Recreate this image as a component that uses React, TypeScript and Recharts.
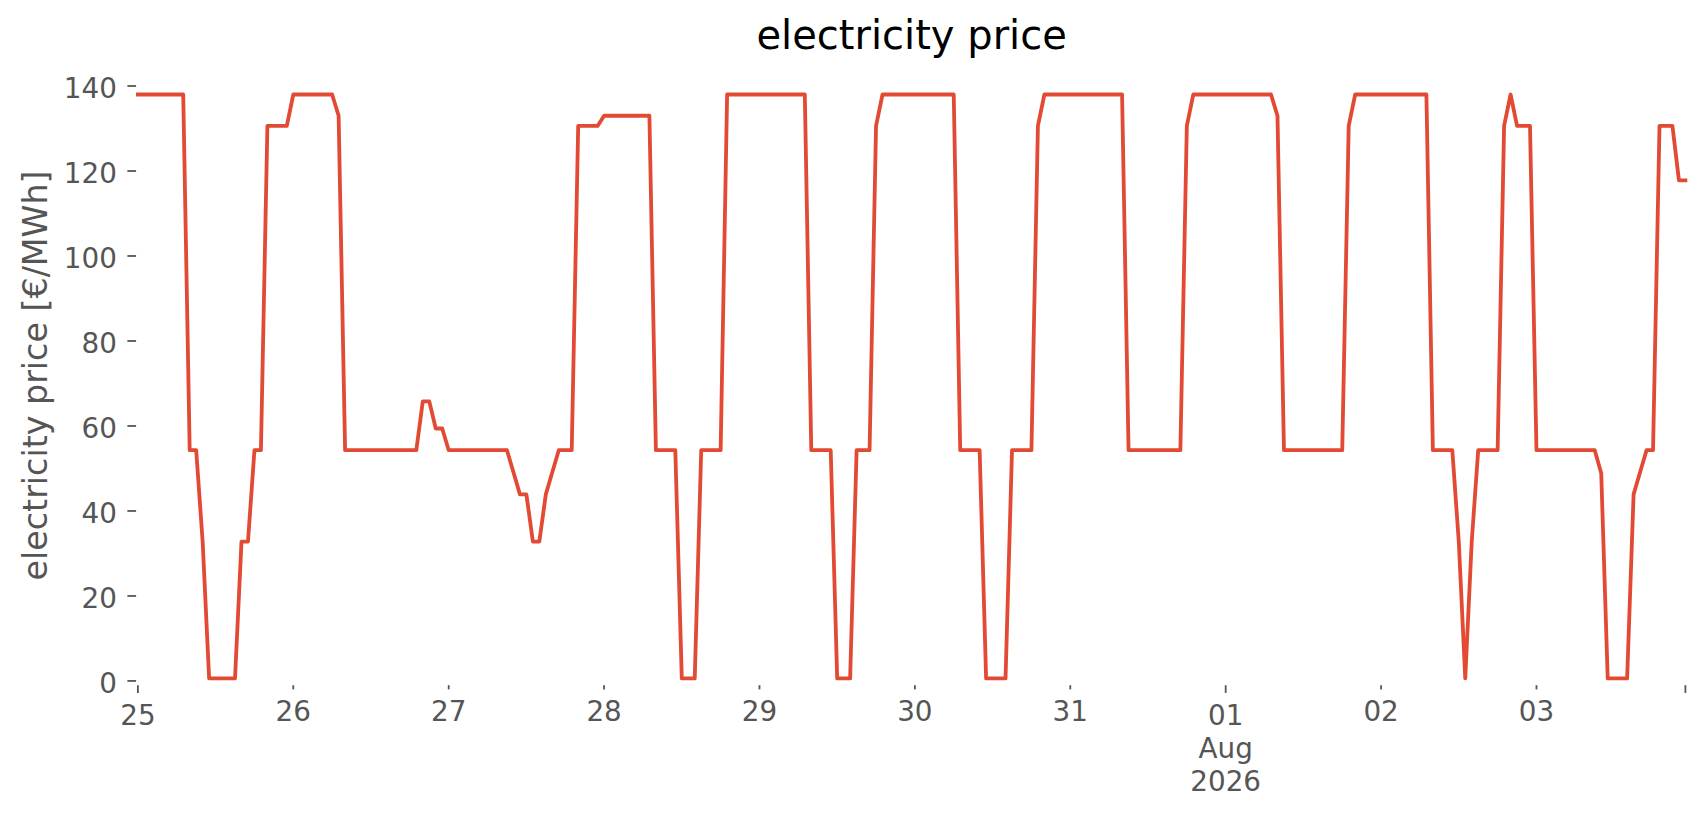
import { LineChart, Line, XAxis, YAxis } from "recharts";

// hourly day-ahead prices [€/MWh], 25 Jul 2026 00:00 .. 03 Aug 2026 23:00
const jul25 = [138, 138, 138, 138, 138, 138, 138, 138, 54.3, 54.3, 32.8, 0.6, 0.6, 0.6, 0.6, 0.6, 32.8, 32.8, 54.3, 54.3, 130.6, 130.6, 130.6, 130.6];
const jul26 = [138, 138, 138, 138, 138, 138, 138, 133, 54.3, 54.3, 54.3, 54.3, 54.3, 54.3, 54.3, 54.3, 54.3, 54.3, 54.3, 54.3, 65.8, 65.8, 59.4, 59.4];
const jul27 = [54.3, 54.3, 54.3, 54.3, 54.3, 54.3, 54.3, 54.3, 54.3, 54.3, 49.1, 43.9, 43.9, 32.8, 32.8, 43.9, 49.1, 54.3, 54.3, 54.3, 130.6, 130.6, 130.6, 130.6];
const jul28 = [133, 133, 133, 133, 133, 133, 133, 133, 54.3, 54.3, 54.3, 54.3, 0.6, 0.6, 0.6, 54.3, 54.3, 54.3, 54.3, 138, 138, 138, 138, 138];
const jul29 = [138, 138, 138, 138, 138, 138, 138, 138, 54.3, 54.3, 54.3, 54.3, 0.6, 0.6, 0.6, 54.3, 54.3, 54.3, 130.6, 138, 138, 138, 138, 138];
const jul30 = [138, 138, 138, 138, 138, 138, 138, 54.3, 54.3, 54.3, 54.3, 0.6, 0.6, 0.6, 0.6, 54.3, 54.3, 54.3, 54.3, 130.6, 138, 138, 138, 138];
const jul31 = [138, 138, 138, 138, 138, 138, 138, 138, 138, 54.3, 54.3, 54.3, 54.3, 54.3, 54.3, 54.3, 54.3, 54.3, 130.6, 138, 138, 138, 138, 138];
const aug01 = [138, 138, 138, 138, 138, 138, 138, 138, 133, 54.3, 54.3, 54.3, 54.3, 54.3, 54.3, 54.3, 54.3, 54.3, 54.3, 130.6, 138, 138, 138, 138];
const aug02 = [138, 138, 138, 138, 138, 138, 138, 138, 54.3, 54.3, 54.3, 54.3, 32.8, 0.6, 32.8, 54.3, 54.3, 54.3, 54.3, 130.6, 138, 130.6, 130.6, 130.6];
const aug03 = [54.3, 54.3, 54.3, 54.3, 54.3, 54.3, 54.3, 54.3, 54.3, 54.3, 48.9, 0.6, 0.6, 0.6, 0.6, 43.9, 49.1, 54.3, 54.3, 130.6, 130.6, 130.6, 117.8, 117.8];

const prices = [...jul25, ...jul26, ...jul27, ...jul28, ...jul29, ...jul30, ...jul31, ...aug01, ...aug02, ...aug03];

// x ticks: hour index of each midnight, plus the last sample
const dayTicks = [0, 24, 48, 72, 96, 120, 144, 168, 192, 216, 239];
const dayLabels = ["25", "26", "27", "28", "29", "30", "31", "01", "02", "03", ""];
const majorTicks = [0, 168, 239]; // drawn with the longer tick mark
const monthLabels = ["Aug", "2026"]; // printed under "01"
const yTicks = [0, 20, 40, 60, 80, 100, 120, 140];

const data = prices.map((price, hour) => ({ hour, price }));

const W = 1706;
const H = 815;
const LEFT = 137.9;
const RIGHT = 1685.4;
const TOP = 65.6;
const BOTTOM = 685.2;
const FONT = "'DejaVu Sans', sans-serif";
const GREY = "#555555";

function DayTick(props: any) {
  const { x, y, payload } = props;
  const i = dayTicks.indexOf(payload.value);
  const label = i >= 0 ? dayLabels[i] : "";
  const major = payload.value === 0 || label === "01";
  const len = majorTicks.includes(payload.value) ? 7.7 : 4.2;
  return (
    <g>
      <line x1={x} x2={x} y1={y} y2={y + len} stroke={GREY} strokeWidth={1.8} />
      <text x={x} y={y} textAnchor="middle" fill={GREY} fontSize={27.8} fontFamily={FONT}>
        <tspan x={x} dy={major ? 39.8 : 35.8}>
          {label}
        </tspan>
        {label === "01" &&
          monthLabels.map((m) => (
            <tspan key={m} x={x} dy={33.2}>
              {m}
            </tspan>
          ))}
      </text>
    </g>
  );
}

function PriceTick(props: any) {
  const { x, y, payload } = props;
  return (
    <g>
      <line x1={x - 10.5} x2={x - 1.8} y1={y} y2={y} stroke={GREY} strokeWidth={1.8} />
      <text x={x - 21} y={y} dy={12} textAnchor="end" fill={GREY} fontSize={27.8} fontFamily={FONT}>
        {payload.value}
      </text>
    </g>
  );
}

export default function App() {
  return (
    <div style={{ position: "absolute", left: 0, top: 0, width: W, height: H, background: "#fff" }}>
      <LineChart
        width={W}
        height={H}
        data={data}
        margin={{ top: TOP, right: W - RIGHT, bottom: 0, left: 0 }}
      >
        <XAxis
          dataKey="hour"
          type="number"
          domain={[0, 239]}
          ticks={dayTicks}
          interval={0}
          height={H - BOTTOM}
          axisLine={false}
          tickLine={false}
          tickSize={0}
          tickMargin={0}
          tick={<DayTick />}
        />
        <YAxis
          type="number"
          domain={[-1, 144.8]}
          ticks={yTicks}
          interval={0}
          width={LEFT}
          axisLine={false}
          tickLine={false}
          tickSize={0}
          tickMargin={0}
          tick={<PriceTick />}
        />
        <Line
          type="linear"
          dataKey="price"
          stroke="#E24A33"
          strokeWidth={3.8}
          strokeLinejoin="round"
          strokeLinecap="square"
          dot={false}
          activeDot={false}
          isAnimationActive={false}
        />
      </LineChart>
      <svg
        width={W}
        height={H}
        style={{ position: "absolute", left: 0, top: 0, pointerEvents: "none" }}
      >
        <text x={(LEFT + RIGHT) / 2} y={49.3} textAnchor="middle" fontSize={40} fontFamily={FONT} fill="#000">
          electricity price
        </text>
        <text
          x={36}
          y={(TOP + BOTTOM) / 2}
          transform={`rotate(-90, 36, ${(TOP + BOTTOM) / 2})`}
          textAnchor="middle"
          dominantBaseline="central"
          fontSize={33.3}
          fontFamily={FONT}
          fill={GREY}
        >
          electricity price [€/MWh]
        </text>
      </svg>
    </div>
  );
}
